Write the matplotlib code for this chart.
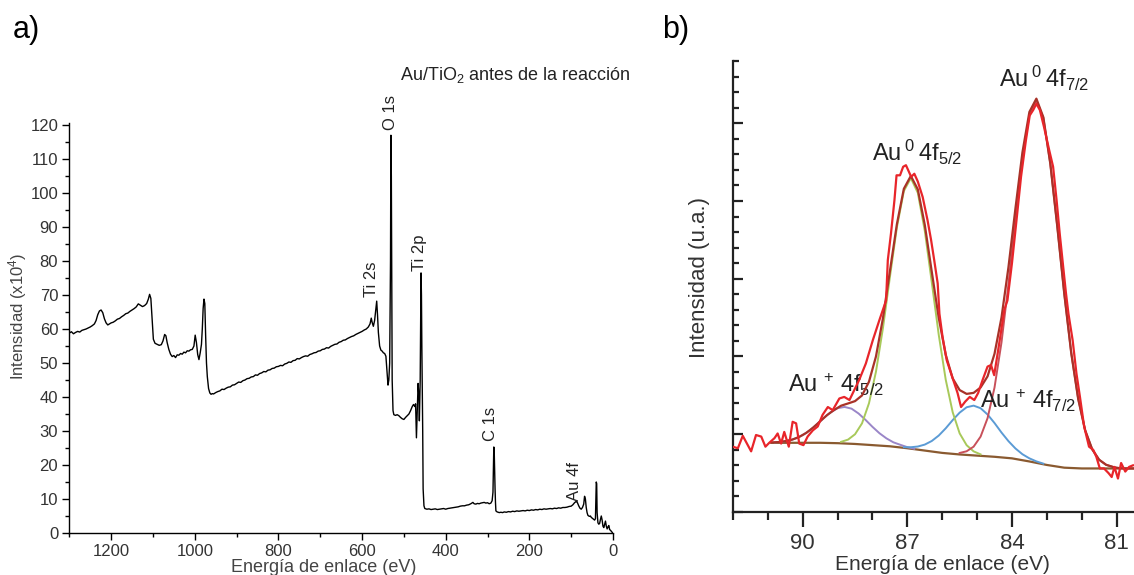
import matplotlib
matplotlib.use("Agg")
import matplotlib.pyplot as plt
from matplotlib.ticker import MultipleLocator

plt.rcParams['font.family'] = ['Liberation Sans', 'DejaVu Sans']
plt.rcParams['mathtext.fontset'] = 'custom'
plt.rcParams['mathtext.rm'] = 'Liberation Sans'
plt.rcParams['mathtext.it'] = 'Liberation Sans:italic'
plt.rcParams['mathtext.bf'] = 'Liberation Sans:bold'

# ---------------- Panel a: survey spectrum ----------------
survey_E = [1300, 1295, 1290, 1285, 1280, 1275, 1270, 1265, 1260, 1255, 1250, 1245, 1240, 1236, 1232, 1228, 1224, 1220, 1216, 1212,
            1208, 1204, 1200, 1195, 1190, 1185, 1180, 1175, 1170, 1165, 1160, 1155, 1150, 1145, 1140, 1135, 1130, 1125, 1120, 1115,
            1111, 1108, 1105, 1102, 1099, 1095, 1090, 1085, 1080, 1076, 1072, 1069, 1066, 1062, 1058, 1054, 1050, 1046, 1042, 1038,
            1034, 1030, 1026, 1022, 1018, 1014, 1010, 1006, 1002, 999, 996, 993, 990, 987, 984, 982, 980, 978, 976, 974,
            972, 970, 967, 964, 961, 958, 955, 950, 945, 940, 935, 930, 925, 920, 915, 910, 905, 900, 895, 890,
            885, 880, 875, 870, 865, 860, 855, 850, 845, 840, 835, 830, 825, 820, 815, 810, 805, 800, 795, 790,
            785, 780, 775, 770, 765, 760, 755, 750, 745, 740, 735, 730, 725, 720, 715, 710, 705, 700, 695, 690,
            685, 680, 675, 670, 665, 660, 655, 650, 645, 640, 635, 630, 625, 620, 615, 610, 605, 600, 595, 590,
            585, 581, 578, 576, 573, 570, 567, 565, 563, 561, 558, 555, 552, 549, 546, 543, 540, 538, 536, 534,
            532, 531, 530, 529, 528, 526, 524, 520, 516, 512, 508, 504, 500, 496, 492, 488, 484, 480, 477, 474,
            472, 470, 468, 466, 464, 463, 461, 459, 458, 457, 455, 454, 452, 450, 445, 440, 435, 430, 425, 420,
            415, 410, 405, 400, 395, 390, 385, 380, 375, 370, 365, 360, 355, 350, 345, 340, 335, 332, 328, 324,
            320, 316, 312, 308, 304, 300, 296, 292, 289, 287, 285, 284, 283, 282, 281, 280, 277, 272, 268, 264,
            260, 255, 250, 245, 240, 235, 230, 225, 220, 215, 210, 205, 200, 195, 190, 185, 180, 175, 170, 165,
            160, 155, 150, 145, 140, 135, 130, 125, 120, 115, 110, 105, 100, 96, 92, 88, 85, 82, 79, 76,
            73, 70, 68, 66, 64, 62, 60, 58, 56, 54, 52, 50, 48, 46, 44, 42, 40, 39, 38, 36,
            34, 32, 30, 28, 26, 24, 22, 20, 18, 16, 14, 12, 10, 8, 6, 4, 2, 0]
survey_I = [58.8, 59.2, 58.6, 59.0, 59.3, 59.1, 59.6, 59.8, 60.0, 60.3, 60.6, 61.0, 61.5, 62.5, 64.2, 65.3, 65.6, 64.8, 63.0, 61.8,
            61.2, 61.5, 61.8, 62.0, 62.4, 62.9, 63.1, 63.6, 64.0, 64.5, 64.7, 65.2, 65.6, 66.0, 66.5, 67.4, 67.0, 66.6, 66.9, 67.5,
            68.8, 70.2, 69.0, 63.0, 57.0, 55.8, 55.5, 55.2, 55.4, 56.5, 58.4, 58.0, 56.0, 54.0, 52.6, 51.9, 52.2, 51.6, 52.4, 52.3,
            52.8, 52.6, 53.2, 53.0, 53.6, 53.5, 53.9, 54.0, 55.0, 58.2, 56.0, 52.5, 51.0, 53.0, 55.5, 60.0, 66.0, 68.8, 67.5, 58.0,
            50.0, 46.0, 42.5, 41.2, 40.8, 41.0, 40.9, 41.3, 41.6, 41.8, 42.3, 42.2, 42.6, 42.9, 43.0, 43.5, 43.6, 44.0, 44.4, 44.3,
            44.8, 45.0, 45.4, 45.5, 45.9, 46.0, 46.5, 46.4, 46.9, 47.1, 47.5, 47.4, 47.9, 48.0, 48.4, 48.5, 48.9, 49.0, 49.3, 49.2,
            49.7, 49.9, 50.3, 50.2, 50.7, 50.8, 51.3, 51.2, 51.6, 51.9, 52.1, 52.0, 52.5, 52.7, 53.0, 53.1, 53.5, 53.6, 54.0, 54.1,
            54.5, 54.4, 54.9, 55.2, 55.5, 55.6, 56.1, 56.3, 56.7, 56.8, 57.2, 57.5, 57.8, 58.0, 58.4, 58.7, 59.0, 59.3, 59.7, 60.0,
            60.6, 61.5, 63.2, 62.0, 60.8, 62.5, 66.0, 68.2, 64.0, 59.0, 55.0, 53.8, 53.5, 53.0, 52.8, 52.0, 47.0, 43.5, 45.0, 50.0,
            80.0, 117.0, 105.0, 75.0, 45.0, 36.0, 34.8, 34.6, 34.8, 34.5, 34.0, 33.6, 33.4, 34.0, 34.5, 35.0, 36.0, 37.2, 37.8, 37.2,
            38.0, 28.0, 36.0, 44.0, 40.0, 33.0, 45.0, 76.5, 70.0, 54.0, 30.0, 13.0, 8.0, 7.2, 7.0, 7.1, 6.9, 7.0, 7.1, 6.9,
            7.0, 7.1, 7.2, 7.0, 7.2, 7.3, 7.4, 7.5, 7.6, 7.7, 7.9, 8.0, 8.0, 8.2, 8.3, 8.6, 9.0, 8.6, 8.5, 8.7,
            8.6, 8.8, 8.9, 9.0, 8.8, 8.9, 8.6, 8.8, 9.5, 12.0, 25.3, 24.0, 18.0, 13.0, 9.0, 6.5, 6.2, 6.0, 6.1, 6.0,
            6.2, 6.1, 6.3, 6.2, 6.4, 6.3, 6.5, 6.4, 6.5, 6.6, 6.5, 6.7, 6.6, 6.8, 6.7, 6.9, 6.8, 7.0, 6.9, 7.1,
            7.0, 7.1, 7.2, 7.1, 7.3, 7.2, 7.4, 7.3, 7.5, 7.5, 7.6, 7.8, 7.9, 8.3, 8.9, 9.3, 8.9, 8.0, 7.3, 7.0,
            7.5, 8.5, 10.8, 10.0, 7.5, 6.0, 5.2, 5.0, 4.9, 5.0, 4.6, 4.4, 4.2, 4.0, 3.8, 4.2, 15.0, 14.5, 6.0, 3.0,
            2.6, 2.8, 4.0, 5.0, 3.8, 2.0, 1.6, 2.5, 3.5, 2.0, 1.2, 1.8, 2.2, 1.0, 0.8, 0.5, 0.2, 0.0]

peak_labels = ["O 1s", "Ti 2s", "Ti 2p", "C 1s", "Au 4f"]
peak_label_E = [533, 577, 462, 294, 91]
peak_label_I = [118.5, 69.4, 77.0, 27.0, 9.4]

# ---------------- Panel b: Au 4f high resolution ----------------
raw_E = [92.01, 91.86, 91.72, 91.60, 91.48, 91.34, 91.19, 91.07, 90.96, 90.81, 90.72, 90.62, 90.53, 90.40, 90.29, 90.19,
         90.10, 89.98, 89.86, 89.71, 89.57, 89.43, 89.28, 89.14, 88.95, 88.81, 88.66, 88.52, 88.38, 88.19, 87.99, 87.80,
         87.61, 87.56, 87.47, 87.37, 87.31, 87.21, 87.12, 87.04, 86.97, 86.89, 86.80, 86.70, 86.56, 86.42, 86.32, 86.23,
         86.13, 86.08, 85.99, 85.87, 85.70, 85.56, 85.46, 85.34, 85.21, 85.08, 84.97, 84.84, 84.70, 84.60, 84.51, 84.41,
         84.32, 84.22, 84.13, 84.00, 83.87, 83.74, 83.60, 83.49, 83.39, 83.30, 83.20, 83.08, 82.93, 82.82, 82.72, 82.63,
         82.53, 82.45, 82.38, 82.26, 82.15, 82.05, 81.93, 81.79, 81.67, 81.58, 81.48, 81.36, 81.23, 81.14, 81.06, 80.96,
         80.87, 80.75, 80.64, 80.53]
raw_I = [0.84, 0.82, 0.98, 0.88, 0.78, 0.99, 0.97, 0.84, 0.89, 0.95, 1.01, 0.88, 1.03, 0.84, 1.16, 1.14,
         0.88, 0.86, 0.97, 1.05, 1.10, 1.25, 1.35, 1.31, 1.46, 1.48, 1.44, 1.57, 1.70, 1.91, 2.21, 2.47,
         2.72, 3.24, 3.58, 4.01, 4.33, 4.33, 4.44, 4.46, 4.39, 4.31, 4.35, 4.25, 4.05, 3.75, 3.50, 3.24,
         2.94, 2.55, 2.25, 1.95, 1.72, 1.53, 1.35, 1.42, 1.48, 1.44, 1.53, 1.70, 1.87, 1.89, 1.76, 2.04,
         2.30, 2.60, 2.72, 3.20, 3.75, 4.31, 4.78, 5.10, 5.17, 5.25, 5.17, 4.95, 4.65, 4.44, 4.01, 3.58,
         3.15, 2.81, 2.55, 2.21, 1.78, 1.48, 1.10, 0.84, 0.80, 0.71, 0.56, 0.56, 0.50, 0.45, 0.58, 0.43,
         0.63, 0.52, 0.58, 0.60]

fit_E = [90.9, 90.7, 90.5, 90.3, 90.1, 89.9, 89.7, 89.5, 89.3, 89.1, 88.9, 88.7, 88.5, 88.3, 88.1, 87.9, 87.7, 87.5,
         87.3, 87.1, 86.9, 86.7, 86.5, 86.3, 86.1, 85.9, 85.7, 85.5, 85.3, 85.1, 84.9, 84.7, 84.5, 84.3, 84.1, 83.9,
         83.7, 83.5, 83.3, 83.1, 82.9, 82.7, 82.5, 82.3, 82.1, 81.9, 81.7, 81.5, 81.3, 81.1, 80.9, 80.7, 80.5]
fit_I = [0.894, 0.899, 0.911, 0.931, 0.966, 1.017, 1.086, 1.167, 1.247, 1.312, 1.367, 1.396, 1.426, 1.499, 1.676, 2.000,
         2.492, 3.099, 3.702, 4.157, 4.322, 4.149, 3.693, 3.091, 2.497, 2.023, 1.718, 1.568, 1.519, 1.532, 1.601, 1.744,
         2.035, 2.501, 3.150, 3.905, 4.624, 5.145, 5.316, 5.077, 4.479, 3.672, 2.809, 2.045, 1.453, 1.050, 0.807, 0.672,
         0.607, 0.579, 0.562, 0.560, 0.560]

base_E = [90.9, 90.5, 90.0, 89.5, 89.0, 88.5, 88.0, 87.5, 87.0, 86.5, 86.0, 85.5, 85.0, 84.5, 84.0, 83.5, 83.0, 82.5,
          82.0, 81.5, 81.0, 80.5]
base_I = [0.89, 0.89, 0.89, 0.89, 0.885, 0.875, 0.86, 0.845, 0.82, 0.79, 0.76, 0.74, 0.725, 0.71, 0.69, 0.65, 0.605,
          0.57, 0.56, 0.56, 0.56, 0.56]

auplus52_E = [90.8, 90.6, 90.4, 90.2, 90.0, 89.8, 89.6, 89.4, 89.2, 89.0, 88.8, 88.6, 88.4, 88.2, 88.0, 87.8, 87.6,
              87.4, 87.2, 87.0, 86.8]
auplus52_I = [0.896, 0.904, 0.919, 0.946, 0.989, 1.049, 1.125, 1.209, 1.282, 1.335, 1.351, 1.329, 1.267, 1.185, 1.095,
              1.013, 0.947, 0.896, 0.864, 0.834, 0.814]

auplus72_E = [87.1, 86.9, 86.7, 86.5, 86.3, 86.1, 85.9, 85.7, 85.5, 85.3, 85.1, 84.9, 84.7, 84.5, 84.3, 84.1, 83.9,
              83.7, 83.5, 83.3, 83.1]
auplus72_I = [0.833, 0.833, 0.842, 0.867, 0.913, 0.983, 1.076, 1.182, 1.278, 1.347, 1.368, 1.335, 1.254, 1.144, 1.022,
              0.911, 0.817, 0.743, 0.690, 0.651, 0.622]

au0_52_E = [88.9, 88.7, 88.5, 88.3, 88.1, 87.9, 87.7, 87.5, 87.3, 87.1, 86.9, 86.7, 86.5, 86.3, 86.1, 85.9, 85.7,
            85.5, 85.3, 85.1, 84.9]
au0_52_I = [0.902, 0.931, 1.000, 1.140, 1.399, 1.804, 2.365, 3.023, 3.661, 4.128, 4.294, 4.105, 3.616, 2.956, 2.280,
            1.703, 1.284, 1.011, 0.859, 0.780, 0.741]

au0_72_E = [85.5, 85.3, 85.1, 84.9, 84.7, 84.5, 84.3, 84.1, 83.9, 83.7, 83.5, 83.3, 83.1, 82.9, 82.7, 82.5, 82.3,
            82.1, 81.9, 81.7, 81.5, 81.3, 81.1]
au0_72_I = [0.759, 0.781, 0.840, 0.969, 1.206, 1.601, 2.181, 2.933, 3.770, 4.547, 5.105, 5.297, 5.069, 4.479, 3.672,
            2.809, 2.045, 1.453, 1.050, 0.807, 0.672, 0.607, 0.579]

b_labels = [r"Au$^{\;0}$$\,$4f$_{7/2}$", r"Au$^{\;0}$$\,$4f$_{5/2}$", r"Au$^{\;+}$$\,$4f$_{5/2}$", r"Au$^{\;+}$$\,$4f$_{7/2}$"]
b_label_E = [84.36, 88.02, 90.43, 84.93]
b_label_I = [5.46, 4.52, 1.54, 1.34]

W, H = 1134, 575
fig = plt.figure(figsize=(W / 100, H / 100), dpi=100)

def fx(px):
    return px / W

def fy(py):
    return 1 - py / H

# ---- axes a
axa = fig.add_axes([fx(69.3), fy(533), fx(613 - 69.3), (533 - 123) / H])
axa.plot(survey_E, survey_I, color='black', lw=1.0)
axa.set_xlim(1300, 0)
axa.set_ylim(0, 120.6)
for s in ['top', 'right']:
    axa.spines[s].set_visible(False)
for s in ['left', 'bottom']:
    axa.spines[s].set_linewidth(1.0)
axa.xaxis.set_major_locator(MultipleLocator(200))
axa.xaxis.set_minor_locator(MultipleLocator(100))
axa.yaxis.set_major_locator(MultipleLocator(10))
axa.yaxis.set_minor_locator(MultipleLocator(5))
axa.tick_params(which='major', direction='out', length=5, width=1, labelsize=12, labelcolor='#333333', pad=3)
axa.tick_params(which='minor', direction='out', length=3, width=1)
for lab, e, i in zip(peak_labels, peak_label_E, peak_label_I):
    axa.text(e, i, lab, rotation=90, ha='center', va='bottom', fontsize=12, color='#222222')
fig.text(fx(400), fy(80), r"Au/TiO$_2$ antes de la reacción",
         ha='left', va='baseline', fontsize=13, color='#222222')
fig.text(fx(18), fy(316), r"Intensidad (x10$^{4}$)", rotation=90, ha='center', va='center',
         fontsize=12, color='#444444')
fig.text(fx(324), fy(567), "Energía de enlace (eV)", ha='center', va='center', fontsize=13, color='#444444')
fig.text(fx(13), fy(30), "a)", ha='left', va='center', fontsize=22, color='black')

# ---- axes b
axb = fig.add_axes([fx(733), fy(512), fx(W - 733), (512 - 61) / H])
axb.plot(base_E, base_I, color='#8a5a30', lw=1.6, zorder=2)
axb.plot(auplus52_E, auplus52_I, color='#9a86c8', lw=1.4, zorder=3)
axb.plot(auplus72_E, auplus72_I, color='#5b9bd5', lw=1.4, zorder=3)
axb.plot(au0_52_E, au0_52_I, color='#a8c95a', lw=1.4, zorder=3)
axb.plot(au0_72_E, au0_72_I, color='#c8505a', lw=1.4, zorder=3)
axb.plot(fit_E, fit_I, color='#a83228', lw=1.6, zorder=4)
axb.plot(raw_E, raw_I, color='#e8252a', lw=1.6, zorder=5)
axb.set_xlim(92.0, 80.5)
axb.set_ylim(0, 5.8)
for s in ['top', 'right']:
    axb.spines[s].set_visible(False)
for s in ['left', 'bottom']:
    axb.spines[s].set_linewidth(1.6)
    axb.spines[s].set_color('#222222')
axb.xaxis.set_major_locator(MultipleLocator(3))
axb.xaxis.set_minor_locator(MultipleLocator(1))
axb.yaxis.set_major_locator(MultipleLocator(1))
axb.yaxis.set_minor_locator(MultipleLocator(0.2))
axb.tick_params(axis='x', which='major', direction='out', length=11, width=1.6, labelsize=16,
                labelcolor='#333333', pad=4, color='#222222')
axb.tick_params(axis='x', which='minor', direction='out', length=6, width=1.6, color='#222222')
axb.tick_params(axis='y', which='major', direction='in', length=7, width=1.6, labelleft=False, color='#222222')
axb.tick_params(axis='y', which='minor', direction='in', length=4, width=1.6, color='#222222')
for lab, e, i in zip(b_labels, b_label_E, b_label_I):
    axb.text(e, i, lab, ha='left', va='baseline', fontsize=17, color='#222222')
fig.text(fx(700), fy(278), "Intensidad (u.a.)", rotation=90, ha='center', va='center',
         fontsize=16, color='#333333')
fig.text(fx(942), fy(565), "Energía de enlace (eV)", ha='center', va='center', fontsize=15, color='#333333')
fig.text(fx(662), fy(30), "b)", ha='left', va='center', fontsize=22, color='black')

fig.savefig("out.png", dpi=100, facecolor='white')
